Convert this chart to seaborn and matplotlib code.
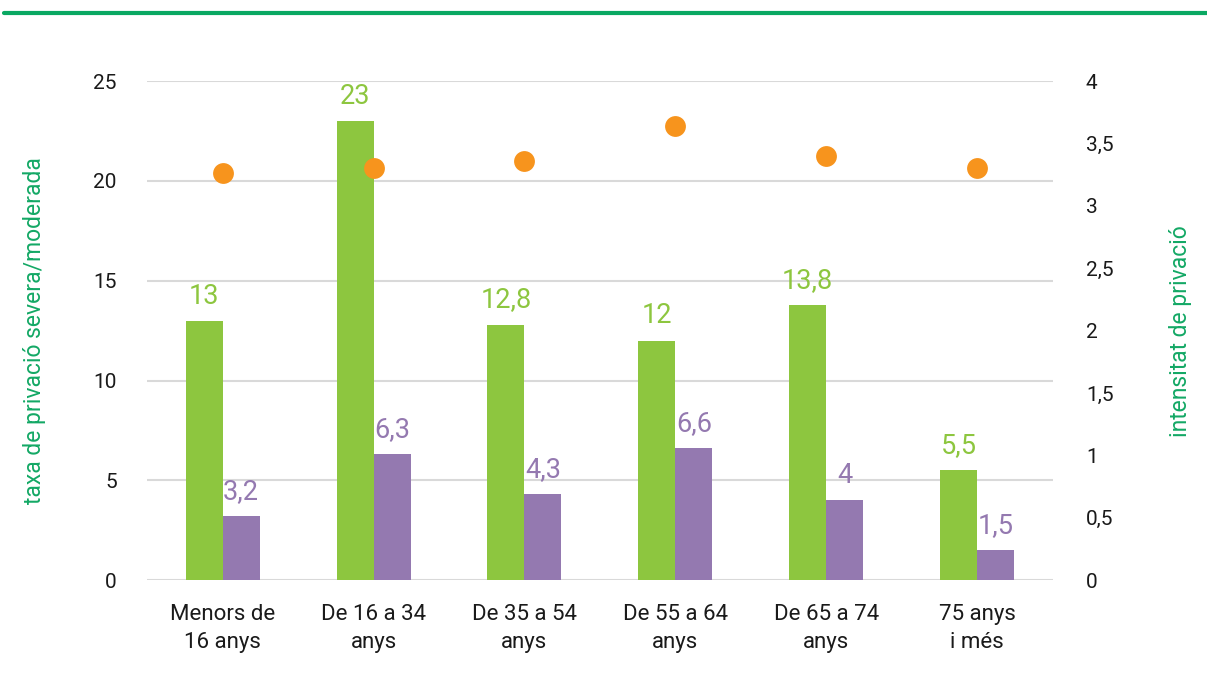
import matplotlib
matplotlib.use("Agg")
import matplotlib.pyplot as plt
from matplotlib.lines import Line2D
import pandas as pd
import seaborn as sns

# data
groups = ["Menors de\n16 anys", "De 16 a 34\nanys", "De 35 a 54\nanys",
          "De 55 a 64\nanys", "De 65 a 74\nanys", "75 anys\ni més"]
taxa_moderada = [13, 23, 12.8, 12, 13.8, 5.5]
taxa_severa = [3.2, 6.3, 4.3, 6.6, 4, 1.5]
intensitat = [3.26, 3.30, 3.36, 3.64, 3.40, 3.30]
left_ticks = [0, 5, 10, 15, 20, 25]
right_ticks = [0, 0.5, 1, 1.5, 2, 2.5, 3, 3.5, 4]

green = "#8dc63f"
purple = "#9479b0"
orange = "#f7941d"
dark_green = "#13a865"

df = pd.DataFrame({
    "grup": groups * 2,
    "valor": taxa_moderada + taxa_severa,
    "serie": ["moderada"] * len(groups) + ["severa"] * len(groups),
})

sns.set_style("white")
plt.rcParams["font.family"] = ["Roboto", "DejaVu Sans"]

fig = plt.figure(figsize=(12.07, 6.99), dpi=100)
ax = fig.add_axes([0.122, 0.170, 0.750, 0.714])

sns.barplot(data=df, x="grup", y="valor", hue="serie",
            palette=[green, purple], width=0.49, ax=ax, legend=False,
            errorbar=None, saturation=1, linewidth=0)

# value labels
for cont, col in zip(ax.containers, [green, purple]):
    labels = [f"{v:g}".replace(".", ",") for v in cont.datavalues]
    ax.bar_label(cont, labels=labels, color=col, fontsize=19.5, padding=8)

ax.set_ylim(0, 25)
ax.set_xlim(-0.5, 5.5)
ax.set_yticks(left_ticks)
ax.set_yticklabels([str(t) for t in left_ticks])
ax.yaxis.grid(True, color="#d9d9d9", linewidth=1.5)
ax.set_axisbelow(True)
for s in ax.spines.values():
    s.set_visible(False)
ax.tick_params(axis="y", length=0, pad=22, labelsize=15, labelcolor="#1a1a1a")
ax.tick_params(axis="x", length=0, pad=17, labelsize=16, labelcolor="#1a1a1a")
for lbl in ax.get_xticklabels():
    lbl.set_linespacing(1.45)
ax.set_xlabel("")
ax.set_ylabel("taxa de privació severa/moderada", color=dark_green,
              fontsize=16.5, labelpad=34)

# intensity on the right axis
ax2 = ax.twinx()
sns.stripplot(x=groups, y=intensitat, ax=ax2, jitter=False, color=orange,
              size=15, linewidth=0, zorder=5)
ax2.set_ylim(0, 4)
ax2.set_xlim(-0.5, 5.5)
ax2.set_yticks(right_ticks)
ax2.set_yticklabels([f"{t:g}".replace(".", ",") for t in right_ticks])
for s in ax2.spines.values():
    s.set_visible(False)
ax2.tick_params(axis="y", length=0, pad=24, labelsize=15, labelcolor="#1a1a1a")
ax2.set_ylabel("intensitat de privació", color=dark_green, fontsize=16.5,
               labelpad=40)
ax2.grid(False)

# top green rule
fig.add_artist(Line2D([0.003, 1.0], [0.981, 0.981], color="#0aa862",
                      linewidth=3, transform=fig.transFigure))

fig.savefig("out.png", dpi=100)
